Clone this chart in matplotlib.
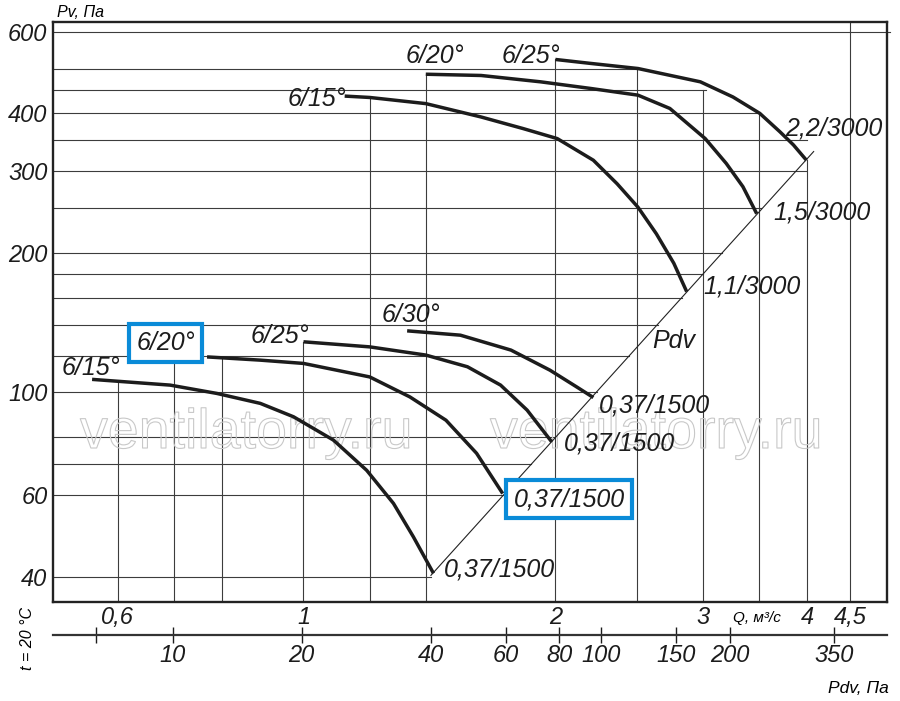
import numpy as np
import matplotlib
matplotlib.use("Agg")
import matplotlib.pyplot as plt
from matplotlib import patheffects
from matplotlib.ticker import NullLocator

plt.rcParams['font.family'] = ['Liberation Sans', 'DejaVu Sans']
plt.rcParams['font.style'] = 'italic'

# axes (Q en m3/s, Pv en Pa)
q_ticks = [0.6, 1, 2, 3, 4, 4.5]
q_labels = ["0,6", "1", "2", "3", "4", "4,5"]
pv_ticks = [40, 60, 100, 200, 300, 400, 600]
pv_labels = ["40", "60", "100", "200", "300", "400", "600"]
pdv_ticks = [6.6, 10, 20, 40, 60, 80, 100, 150, 200, 350]
pdv_labels = ["", "10", "20", "40", "60", "80", "100", "150", "200", "350"]

# grille : lignes horizontales (Pv, fin en Q) et verticales (Q, haut en Pv)
hgrid_pv = [600, 500, 450, 400, 350, 300, 250, 200, 180, 160, 140, 120, 100, 80, 70, 60, 40]
hgrid_end = [5.02, 2.52, 3.03, 3.5, 4.0, 3.99, 3.52, 3.16, 3.0, 2.83, 2.65, 2.45, 2.24, 2.0, 1.87, 1.73, 1.42]
vgrid_q = [0.6, 0.7, 0.8, 1.0, 1.2, 1.4, 2.0, 2.5, 3.0, 3.5, 4.0, 4.5]
vgrid_top = [105.8, 119.2, 118.8, 128.6, 433, 486, 523, 500, 450, 400, 318, 640]

# ligne Pdv
pdv_line_q = [1.42, 4.07]
pdv_line_pv = [40.3, 331]

# courbes 3000 tr/min
q_615_3000 = [1.12, 1.20, 1.40, 1.63, 1.83, 2.01, 2.22, 2.37, 2.51, 2.64, 2.77, 2.87]
pv_615_3000 = [436, 433, 420, 393, 371, 353, 317, 282, 251, 220, 190, 165]
q_620_3000 = [1.40, 1.63, 1.92, 2.20, 2.51, 2.74, 3.02, 3.20, 3.35, 3.48]
pv_620_3000 = [486, 483, 468, 453, 438, 410, 353, 312, 278, 243]
q_625_3000 = [2.00, 2.20, 2.51, 2.98, 3.26, 3.51, 3.71, 3.85, 3.99]
pv_625_3000 = [523, 513, 500, 468, 434, 400, 365, 342, 317]

# courbes 1500 tr/min
q_615_1500 = [0.559, 0.693, 0.788, 0.888, 0.973, 1.086, 1.190, 1.281, 1.353, 1.430]
pv_615_1500 = [106.7, 103.7, 99.5, 94.7, 88.6, 78.9, 67.9, 57.6, 48.8, 40.7]
q_620_1500 = [0.767, 0.888, 1.00, 1.20, 1.34, 1.48, 1.61, 1.73]
pv_620_1500 = [119.3, 117.4, 115.5, 108.0, 97.8, 87.1, 73.9, 60.5]
q_625_1500 = [1.00, 1.20, 1.40, 1.57, 1.72, 1.85, 1.98]
pv_625_1500 = [128.6, 125.4, 120.4, 113.6, 103.7, 91.6, 78.2]
q_630_1500 = [1.33, 1.54, 1.77, 1.97, 2.12, 2.22]
pv_630_1500 = [135.8, 132.9, 123.4, 111.7, 102.8, 97.5]

curves = [
    (q_615_3000, pv_615_3000), (q_620_3000, pv_620_3000), (q_625_3000, pv_625_3000),
    (q_615_1500, pv_615_1500), (q_620_1500, pv_620_1500), (q_625_1500, pv_625_1500),
    (q_630_1500, pv_630_1500),
]

# étiquettes (texte, Q gauche, Pv ligne de base, encadré)
labels = [
    ("6/20°", 1.323, 512.8, False),
    ("6/25°", 1.727, 512.8, False),
    ("6/15°", 0.956, 414.8, False),
    ("2,2/3000", 3.762, 359.0, False),
    ("1,5/3000", 3.643, 236.5, False),
    ("1,1/3000", 3.005, 163.7, False),
    ("Pdv", 2.609, 124.6, False),
    ("6/15°", 0.5145, 109.0, False),
    ("6/20°", 0.631, 123.4, True),
    ("6/25°", 0.8636, 127.7, False),
    ("6/30°", 1.2407, 142.0, False),
    ("0,37/1500", 2.252, 90.7, False),
    ("0,37/1500", 2.045, 75.1, False),
    ("0,37/1500", 1.782, 56.8, True),
    ("0,37/1500", 1.470, 40.0, False),
]

W, H = 900, 701
fig = plt.figure(figsize=(W / 100, H / 100), dpi=100)
ax = fig.add_axes([53 / W, 1 - 602 / H, 834 / W, 580 / H])
ax.set_xscale('log')
ax.set_yscale('log')
ax.set_xlim(0.502, 4.98)
ax.set_ylim(35.3, 630)

grid_col = '#3c3c3c'
ymin = ax.get_ylim()[0]
xmin = ax.get_xlim()[0]
for pv, qend in zip(hgrid_pv, hgrid_end):
    ax.plot([xmin, qend], [pv, pv], color=grid_col, lw=0.8, zorder=1, clip_on=False)
for q, top in zip(vgrid_q, vgrid_top):
    ax.plot([q, q], [ymin, top], color=grid_col, lw=0.8, zorder=1)

ax.plot(pdv_line_q, pdv_line_pv, color='#222222', lw=0.8, zorder=2)

for q, pv in curves:
    ax.plot(q, pv, color='#1c1c1c', lw=2.5, solid_capstyle='butt',
            solid_joinstyle='round', zorder=3)

# filigrane
for xa in [0.0324, 0.524]:
    ax.text(xa, 0.2655, "ventilatorry.ru", transform=ax.transAxes, fontsize=40,
            fontstyle='normal', color='none', ha='left', va='baseline', zorder=1.5,
            path_effects=[patheffects.withStroke(linewidth=0.8, foreground='#c8c8c8')])

for txt, q, pv, boxed in labels:
    kw = {}
    if boxed:
        kw['bbox'] = dict(boxstyle='square,pad=0.28', facecolor='white',
                          edgecolor='#0a8bd8', linewidth=3)
    ax.text(q, pv, txt, fontsize=18, color='#1c1c1c', ha='left', va='baseline',
            zorder=4, **kw)

for s in ax.spines.values():
    s.set_linewidth(1.7)
    s.set_color('#222222')

ax.set_xticks(q_ticks, q_labels)
ax.set_yticks(pv_ticks, pv_labels)
ax.xaxis.set_minor_locator(NullLocator())
ax.yaxis.set_minor_locator(NullLocator())
ax.tick_params(axis='both', length=0, labelsize=17, colors='#1c1c1c')
ax.tick_params(axis='x', pad=3)
ax.tick_params(axis='y', pad=4)

# échelle Pdv
def q2pdv(q):
    return 20.2 * np.power(np.abs(q), 1.955)

def pdv2q(p):
    return np.power(np.abs(p) / 20.2, 1 / 1.955)

sec = ax.secondary_xaxis(-0.057, functions=(q2pdv, pdv2q))
sec.set_xticks(pdv_ticks, pdv_labels)
sec.xaxis.set_minor_locator(NullLocator())
sec.tick_params(direction='inout', length=11, width=1.0, labelsize=17, pad=1,
                colors='#1c1c1c')
sec.spines['bottom'].set_linewidth(1.6)
sec.spines['bottom'].set_color('#333333')

fig.text(57 / W, 1 - 16.7 / H, "Pv, Па", fontsize=11.5, ha='left', va='baseline')
fig.text(733 / W, 1 - 622 / H, "Q, м³/с", fontsize=11, ha='left', va='baseline')
fig.text(828 / W, 1 - 693 / H, "Pdv, Па", fontsize=12.5, ha='left', va='baseline')
fig.text(27 / W, 1 - 638 / H, "t = 20 °C", fontsize=11.5, rotation=90,
         ha='center', va='center')

fig.savefig("out.png", dpi=100, facecolor='white')
